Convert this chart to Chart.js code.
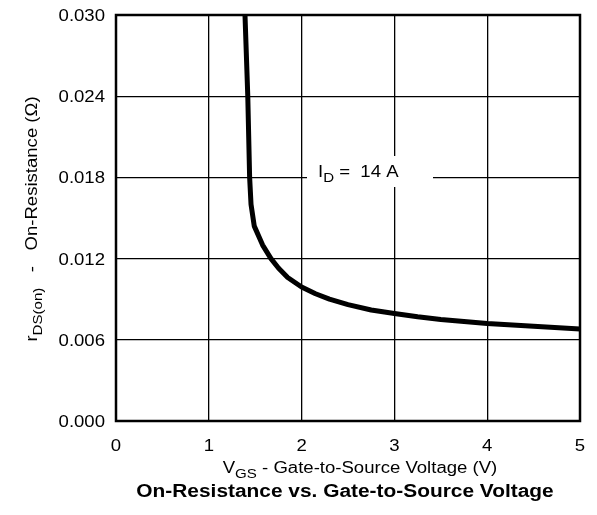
<!DOCTYPE html>
<html>
<head>
<meta charset="utf-8">
<script src="https://cdn.jsdelivr.net/npm/chart.js@4"></script>
<style>
  html, body { margin: 0; padding: 0; background: #fff; }
  #wrap { width: 597px; height: 515px; }
</style>
</head>
<body>
<div id="wrap"><canvas id="rds-chart"></canvas></div>
<script>
// rDS(on) vs VGS at ID = 14 A
const vgs = [1.39, 1.42, 1.44, 1.455, 1.49, 1.58, 1.67, 1.75, 1.85, 2.00, 2.15, 2.30, 2.50, 2.75, 3.00, 3.25, 3.50, 4.00, 4.50, 5.00];
const rdsOn = [0.0300, 0.0240, 0.0180, 0.0160, 0.0144, 0.0130, 0.0120, 0.0113, 0.0106, 0.0099, 0.0094, 0.0090, 0.0086, 0.0082, 0.00795, 0.0077, 0.0075, 0.0072, 0.0070, 0.0068];
const xTicks = [0, 1, 2, 3, 4, 5];
const yTicks = [0.000, 0.006, 0.012, 0.018, 0.024, 0.030];

const FONT = '"Liberation Sans", Arial, Helvetica, sans-serif';
const STRETCH = 1.16;

// draws runs of text (some as subscripts), widened a bit horizontally
function drawRuns(ctx, runs, x, y, size, weight, align) {
  const subSize = Math.round(size * 0.8);
  const fontFor = r => (weight || '') + ' ' + (r.sub ? subSize : size) + 'px ' + FONT;
  let total = 0;
  runs.forEach(r => {
    ctx.font = fontFor(r);
    r.w = ctx.measureText(r.t).width;
    total += r.w;
  });
  ctx.save();
  ctx.translate(x, y);
  ctx.scale(STRETCH, 1);
  let cx = align === 'left' ? 0 : align === 'right' ? -total : -total / 2;
  runs.forEach(r => {
    ctx.font = fontFor(r);
    ctx.fillText(r.t, cx, r.sub ? size * 0.3 : 0);
    cx += r.w;
  });
  ctx.restore();
}

const textPlugin = {
  id: 'textPlugin',
  afterDraw(chart) {
    const ctx = chart.ctx;
    const a = chart.chartArea;
    const xs = chart.scales.x, ys = chart.scales.y;
    ctx.save();
    // frame
    ctx.strokeStyle = '#000';
    ctx.lineWidth = 2.5;
    ctx.strokeRect(a.left, a.top, a.right - a.left, a.bottom - a.top);

    ctx.fillStyle = '#000';
    ctx.textBaseline = 'alphabetic';

    // tick labels
    xTicks.forEach(v => drawRuns(ctx, [{t: String(v)}], xs.getPixelForValue(v), a.bottom + 30, 16, ''));
    yTicks.forEach(v => drawRuns(ctx, [{t: v.toFixed(3)}], a.left - 11, ys.getPixelForValue(v) + 6, 16, '', 'right'));

    // ID label with white backing over the grid
    ctx.fillStyle = '#fff';
    ctx.fillRect(307, 156, 126, 31);
    ctx.fillStyle = '#000';
    drawRuns(ctx, [{t: 'I'}, {t: 'D', sub: true}, {t: ' =  14 A'}], 318, 177, 16, '', 'left');

    // x axis title
    drawRuns(ctx, [{t: 'V'}, {t: 'GS', sub: true}, {t: ' - Gate-to-Source Voltage (V)'}], 360, 473, 16, '');
    // chart caption
    drawRuns(ctx, [{t: 'On-Resistance vs. Gate-to-Source Voltage'}], 345, 497, 18, 'bold');

    // y axis title, rotated
    ctx.translate(37, (a.top + a.bottom) / 2 + 1);
    ctx.rotate(-Math.PI / 2);
    drawRuns(ctx, [{t: 'r'}, {t: 'DS(on)', sub: true}, {t: '   -   On-Resistance (\u03A9)'}], 0, 0, 16, '');
    ctx.restore();
  }
};

new Chart(document.getElementById('rds-chart'), {
  type: 'scatter',
  data: {
    datasets: [{
      data: vgs.map((v, i) => ({x: v, y: rdsOn[i]})),
      showLine: true,
      borderColor: '#000',
      borderWidth: 5,
      borderJoinStyle: 'round',
      pointRadius: 0,
      tension: 0
    }]
  },
  options: {
    responsive: true,
    maintainAspectRatio: false,
    animation: false,
    layout: { padding: { left: 0, top: 15, right: 17, bottom: 0 } },
    plugins: { legend: { display: false }, tooltip: { enabled: false } },
    scales: {
      x: {
        type: 'linear',
        min: 0, max: 5,
        afterFit(s) { s.height = 94; },
        afterBuildTicks(s) { s.ticks = xTicks.map(v => ({value: v})); },
        grid: { color: '#000', lineWidth: 1.3, drawTicks: false },
        border: { display: false },
        ticks: { display: false }
      },
      y: {
        min: 0, max: 0.030,
        afterFit(s) { s.width = 116; },
        afterBuildTicks(s) { s.ticks = yTicks.map(v => ({value: v})); },
        grid: { color: '#000', lineWidth: 1.3, drawTicks: false },
        border: { display: false },
        ticks: { display: false }
      }
    }
  },
  plugins: [textPlugin]
});
</script>
</body>
</html>
